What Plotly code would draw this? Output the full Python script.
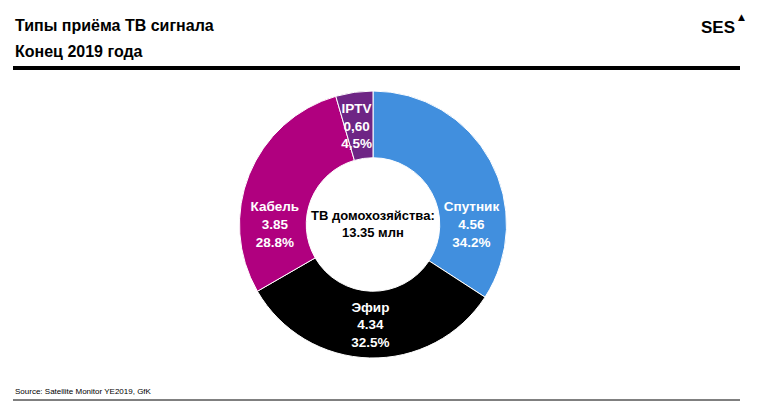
import plotly.graph_objects as go

# data
labels = ['Спутник', 'Эфир', 'Кабель', 'IPTV']
values = [4.56, 4.34, 3.85, 0.60]
value_text = ['4.56', '4.34', '3.85', '0,60']
share_text = ['34.2%', '32.5%', '28.8%', '4,5%']
colors = ['#418FDE', '#000000', '#B0007F', '#6E2585']

total_text = 'ТВ домохозяйства:<br>13.35 млн'
title_lines = ['Типы приёма ТВ сигнала', 'Конец 2019 года']
source_text = 'Source: Satellite Monitor YE2019, GfK'

W, H = 762, 410
FONT = 'Liberation Sans, Arial, sans-serif'

# the thin IPTV slice gets its label pushed to the rim; two invisible
# lines on top pull the visible part back into the middle of the ring
NBSP = '\u00a0'
pad = ['', '', '', f'{NBSP}<br>{NBSP}<br>']
template = [f'<b>{p}%{{label}}<br>%{{text}}</b>' for p in pad]

fig = go.Figure()
fig.add_trace(go.Pie(
    labels=labels,
    values=values,
    text=[f'{v}<br>{s}' for v, s in zip(value_text, share_text)],
    texttemplate=template,
    textinfo='text',
    textposition='inside',
    insidetextorientation='horizontal',
    insidetextfont=dict(family=FONT, size=13.5, color='white'),
    hole=0.5,
    sort=False,
    direction='clockwise',
    rotation=0,
    marker=dict(colors=colors, line=dict(color='white', width=1)),
    showlegend=False,
    hoverinfo='label+value+percent',
    domain=dict(x=[(373 - 133.5) / W, (373 + 133.5) / W], y=[52 / H, 319 / H]),
))


def paper_y(px):
    return 1 - px / H


annotations = [
    dict(text=f'<b>{total_text}</b>', x=373 / W, y=paper_y(224), xref='paper', yref='paper',
         showarrow=False, font=dict(family=FONT, size=13, color='black')),
    dict(text=f'<b>{title_lines[0]}</b>', x=13 / W, y=paper_y(25), xref='paper', yref='paper',
         xanchor='left', yanchor='middle', showarrow=False,
         font=dict(family=FONT, size=16, color='black')),
    dict(text=f'<b>{title_lines[1]}</b>', x=13 / W, y=paper_y(51), xref='paper', yref='paper',
         xanchor='left', yanchor='middle', showarrow=False,
         font=dict(family=FONT, size=16, color='black')),
    dict(text='<b>SES</b>', x=737 / W, y=paper_y(27), xref='paper', yref='paper',
         xanchor='right', yanchor='middle', showarrow=False,
         font=dict(family=FONT, size=17, color='black')),
    dict(text='▲', x=741 / W, y=paper_y(17), xref='paper', yref='paper',
         xanchor='center', yanchor='middle', showarrow=False,
         font=dict(family='DejaVu Sans', size=9, color='black')),
    dict(text=source_text, x=13 / W, y=paper_y(391), xref='paper', yref='paper',
         xanchor='left', yanchor='middle', showarrow=False,
         font=dict(family=FONT, size=8, color='black')),
]

shapes = [
    dict(type='rect', xref='paper', yref='paper', x0=13 / W, x1=740 / W,
         y0=paper_y(70), y1=paper_y(66), fillcolor='black', line=dict(width=0)),
    dict(type='line', xref='paper', yref='paper', x0=13 / W, x1=740 / W,
         y0=paper_y(400), y1=paper_y(400), line=dict(color='black', width=1)),
]

fig.update_layout(
    width=W, height=H,
    margin=dict(l=0, r=0, t=0, b=0),
    paper_bgcolor='white',
    plot_bgcolor='white',
    uniformtext=dict(minsize=13.5, mode='show'),
    annotations=annotations,
    shapes=shapes,
)

# drop the default page margin so the figure sits at the window's corner
fig.write_html('out.html', config={'displayModeBar': False},
               post_script="document.body.style.margin='0';")
